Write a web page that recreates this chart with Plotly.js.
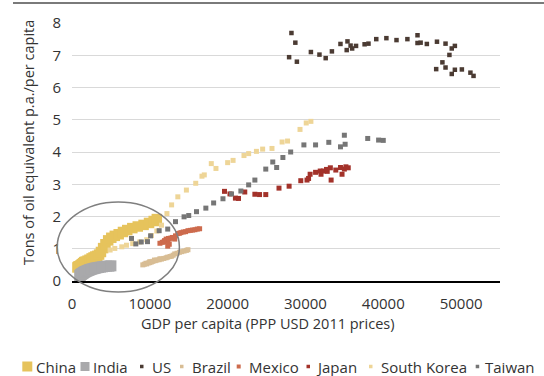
<!DOCTYPE html>
<html>
<head>
<meta charset="utf-8">
<script src="https://cdn.plot.ly/plotly-3.0.1.min.js"></script>
<style>html,body{margin:0;padding:0;background:#fff;}#chart{width:544px;height:376px;}</style>
</head>
<body>
<div id="chart"></div>
<script>
// ---- Data (GDP per capita PPP USD 2011, tons of oil equivalent per capita) ----
const seriesNames = ["China", "India", "US", "Brazil", "Mexico", "Japan", "South Korea", "Taiwan"];
const seriesColors = ["#e6c35c", "#a9a9ab", "#4b3b33", "#d8bd94", "#cd6b4d", "#a3322a", "#eed597", "#767676"];

const chinaX = [700, 780, 860, 950, 1080, 1200, 1290, 1420, 1550, 1590, 1640, 1770, 2000, 2250, 2520, 2770, 3000, 3250, 3480, 3720, 4000, 4300, 4650, 5050, 5500, 6000, 6550, 7100, 7750, 8450, 9200, 9900, 10500, 10900];
const chinaY = [0.42, 0.44, 0.45, 0.46, 0.48, 0.50, 0.52, 0.55, 0.57, 0.58, 0.59, 0.60, 0.63, 0.66, 0.70, 0.73, 0.76, 0.78, 0.82, 0.90, 1.02, 1.14, 1.26, 1.34, 1.40, 1.45, 1.52, 1.58, 1.64, 1.69, 1.74, 1.80, 1.86, 1.92];

const indiaX = [1000, 1050, 1100, 1150, 1200, 1260, 1320, 1380, 1450, 1500, 1560, 1640, 1720, 1800, 1900, 2000, 2100, 2200, 2300, 2420, 2550, 2700, 2850, 3000, 3200, 3400, 3650, 3900, 4150, 4450, 4750, 5000];
const indiaY = [0.17, 0.18, 0.19, 0.20, 0.21, 0.22, 0.23, 0.24, 0.25, 0.26, 0.27, 0.28, 0.29, 0.30, 0.31, 0.32, 0.33, 0.34, 0.35, 0.36, 0.37, 0.38, 0.39, 0.40, 0.41, 0.42, 0.43, 0.44, 0.45, 0.46, 0.46, 0.47];

const usX = [27900, 28200, 28700, 28900, 30700, 31800, 32600, 33400, 34500, 35400, 35300, 35800, 36000, 36500, 37600, 38100, 39100, 40400, 41700, 43100, 44400, 44400, 44800, 45600, 46900, 48000, 49200, 48800, 48500, 47600, 46800, 48000, 48800, 49200, 50100, 51200, 51600];
const usY = [6.94, 7.69, 7.39, 6.80, 7.10, 7.02, 6.91, 7.12, 7.35, 7.43, 7.16, 7.30, 7.21, 7.29, 7.34, 7.36, 7.50, 7.53, 7.47, 7.50, 7.62, 7.38, 7.39, 7.35, 7.42, 7.36, 7.29, 7.21, 7.01, 6.78, 6.57, 6.62, 6.42, 6.55, 6.56, 6.46, 6.36];

const brazilX = [9100, 9300, 9600, 9500, 9800, 10000, 10200, 10000, 10400, 10700, 10600, 10900, 11200, 11500, 11300, 11800, 12100, 12300, 12600, 12800, 13000, 13200, 13500, 13800, 14100, 14400, 14700, 14900];
const brazilY = [0.50, 0.52, 0.53, 0.55, 0.56, 0.57, 0.59, 0.60, 0.61, 0.63, 0.65, 0.65, 0.66, 0.68, 0.69, 0.70, 0.72, 0.74, 0.76, 0.77, 0.80, 0.84, 0.86, 0.89, 0.91, 0.93, 0.95, 0.97];

const mexicoX = [11300, 11600, 11900, 12100, 12400, 12200, 11900, 12300, 12000, 11800, 12500, 12700, 12900, 13100, 13200, 12300, 12500, 13300, 13600, 13800, 14000, 14300, 14600, 14900, 15200, 15500, 15800, 16100, 16400];
const mexicoY = [1.17, 1.20, 1.24, 1.30, 1.32, 1.28, 1.25, 1.27, 1.23, 1.21, 1.30, 1.33, 1.35, 1.34, 1.30, 1.08, 1.14, 1.40, 1.47, 1.48, 1.50, 1.52, 1.53, 1.56, 1.57, 1.58, 1.59, 1.61, 1.62];

const japanX = [19600, 20300, 21000, 21400, 22200, 23500, 24100, 24900, 26600, 27900, 29400, 30200, 30400, 30600, 31300, 32000, 31900, 32300, 32800, 32700, 33200, 33300, 33900, 34500, 34700, 35000, 35200, 35500];
const japanY = [2.78, 2.70, 2.57, 2.56, 2.76, 2.69, 2.68, 2.68, 2.88, 2.94, 3.11, 3.13, 3.18, 3.31, 3.37, 3.31, 3.41, 3.41, 3.40, 3.46, 3.51, 3.13, 3.44, 3.52, 3.31, 3.47, 3.54, 3.51];

const koreaX = [4900, 5500, 6400, 7000, 7800, 8700, 9600, 10200, 10900, 11500, 12200, 12800, 13600, 14700, 15900, 16700, 17000, 17900, 18500, 20000, 20700, 22100, 22700, 23700, 24500, 25700, 27000, 27700, 29300, 30100, 30700];
const koreaY = [0.96, 1.01, 1.06, 1.11, 1.16, 1.21, 1.28, 1.41, 1.55, 1.73, 2.09, 2.36, 2.61, 2.82, 3.03, 3.25, 3.29, 3.64, 3.49, 3.67, 3.74, 3.89, 3.95, 4.02, 4.09, 4.11, 4.31, 4.34, 4.70, 4.90, 4.95];

const taiwanX = [7650, 8200, 8900, 9700, 10100, 11200, 12300, 13300, 14400, 15000, 16000, 17200, 18200, 19400, 20500, 21700, 22700, 23500, 24900, 25800, 26300, 27100, 28100, 29800, 31300, 33000, 34500, 35000, 35100, 38000, 39400, 40000];
const taiwanY = [1.32, 1.15, 1.21, 1.22, 1.40, 1.56, 1.61, 1.84, 1.99, 2.03, 2.15, 2.26, 2.42, 2.55, 2.70, 2.79, 2.98, 3.13, 3.47, 3.69, 3.52, 3.83, 4.00, 4.22, 4.22, 4.30, 4.16, 4.52, 4.24, 4.42, 4.37, 4.36];

const xTickVals = [0, 10000, 20000, 30000, 40000, 50000];
const yTickVals = [0, 1, 2, 3, 4, 5, 6, 7, 8];

const allX = [chinaX, indiaX, usX, brazilX, mexicoX, japanX, koreaX, taiwanX];
const allY = [chinaY, indiaY, usY, brazilY, mexicoY, japanY, koreaY, taiwanY];

// ---- Styling ----
const markerSizes = [10.5, 11, 4.5, 5, 5, 5, 5, 5];
const FONT = "Open Sans, Noto Sans, sans-serif";
const TXT = "#333333";
const X_RANGE = [0, 55000];
const Y_RANGE = [0, 8];

const traces = seriesNames.map((name, i) => ({
  type: "scatter",
  mode: "markers",
  name: name,
  x: allX[i],
  y: allY[i],
  marker: { symbol: "square", size: markerSizes[i], color: seriesColors[i], line: { width: 0 } },
  hoverinfo: "skip",
  showlegend: false
}));

// helpers: data -> paper coordinates
const px = v => (v - X_RANGE[0]) / (X_RANGE[1] - X_RANGE[0]);
const py = v => (v - Y_RANGE[0]) / (Y_RANGE[1] - Y_RANGE[0]);

// Plot area: l=72, r=44, t=23, b=95 -> 428 x 258 px
const PW = 428, PH = 258, ML = 72, MB = 95, H = 376;
const pxToPaperX = p => (p - ML) / PW;
const pxToPaperY = p => ((H - MB) - p) / PH;

const shapes = [
  // highlight ellipse around China / India
  { type: "circle", xref: "paper", yref: "paper",
    x0: px(-1900), x1: px(13800), y0: py(-0.34), y1: py(2.45),
    line: { color: "#7f7f7f", width: 1.5 }, fillcolor: "rgba(0,0,0,0)" },
  // top separator line
  { type: "line", xref: "paper", yref: "paper",
    x0: pxToPaperX(13), x1: pxToPaperX(544), y0: pxToPaperY(3), y1: pxToPaperY(3),
    line: { color: "#7a7a7a", width: 2 } }
];

// custom legend (markers + labels)
const legendMarkerX = [22.3, 80.5, 140, 180, 236.7, 306.5, 369, 475.7];
const legendMarkerW = [10, 9, 3.5, 3.5, 4, 3.5, 3.5, 3.5];
const legendTextX = [34.3, 91, 150, 190, 247, 314, 378.5, 482.6];
const legendCY = 366.5;
const annotations = [];
seriesNames.forEach((name, i) => {
  const w = legendMarkerW[i];
  shapes.push({ type: "rect", xref: "paper", yref: "paper",
    x0: pxToPaperX(legendMarkerX[i]), x1: pxToPaperX(legendMarkerX[i] + w),
    y0: pxToPaperY(legendCY + w / 2), y1: pxToPaperY(legendCY - w / 2),
    line: { width: 0 }, fillcolor: seriesColors[i] });
  annotations.push({ xref: "paper", yref: "paper", x: pxToPaperX(legendTextX[i]), y: pxToPaperY(legendCY),
    xanchor: "left", yanchor: "middle", showarrow: false, text: name,
    font: { family: FONT, size: 15, color: TXT } });
});

// axis titles
annotations.push({ xref: "paper", yref: "paper", x: pxToPaperX(267), y: pxToPaperY(323),
  xanchor: "center", yanchor: "middle", showarrow: false,
  text: "GDP per capita (PPP USD 2011 prices)", font: { family: FONT, size: 14.5, color: TXT } });
annotations.push({ xref: "paper", yref: "paper", x: pxToPaperX(28), y: pxToPaperY(143),
  xanchor: "center", yanchor: "middle", showarrow: false, textangle: -90,
  text: "Tons of oil equivalent p.a./per capita", font: { family: FONT, size: 14.5, color: TXT } });

const layout = {
  width: 544, height: 376,
  margin: { l: ML, r: 44, t: 23, b: MB, pad: 0 },
  paper_bgcolor: "#ffffff", plot_bgcolor: "#ffffff",
  font: { family: FONT, size: 15, color: TXT },
  showlegend: false,
  xaxis: {
    range: X_RANGE, tickvals: xTickVals, ticktext: xTickVals.map(String),
    showgrid: false, zeroline: false, showline: true, linecolor: "#000000", linewidth: 1.5,
    ticks: "", ticklabelstandoff: 8, tickfont: { family: FONT, size: 15, color: TXT }, fixedrange: true
  },
  yaxis: {
    range: Y_RANGE, tickvals: yTickVals, ticktext: yTickVals.map(String),
    showgrid: true, gridcolor: "#d9d9d9", gridwidth: 1, zeroline: false, showline: false,
    ticks: "", ticklabelstandoff: 10, tickfont: { family: FONT, size: 15, color: TXT }, fixedrange: true
  },
  shapes: shapes,
  annotations: annotations
};

Plotly.newPlot("chart", traces, layout, { displayModeBar: false, staticPlot: true });
</script>
</body>
</html>
